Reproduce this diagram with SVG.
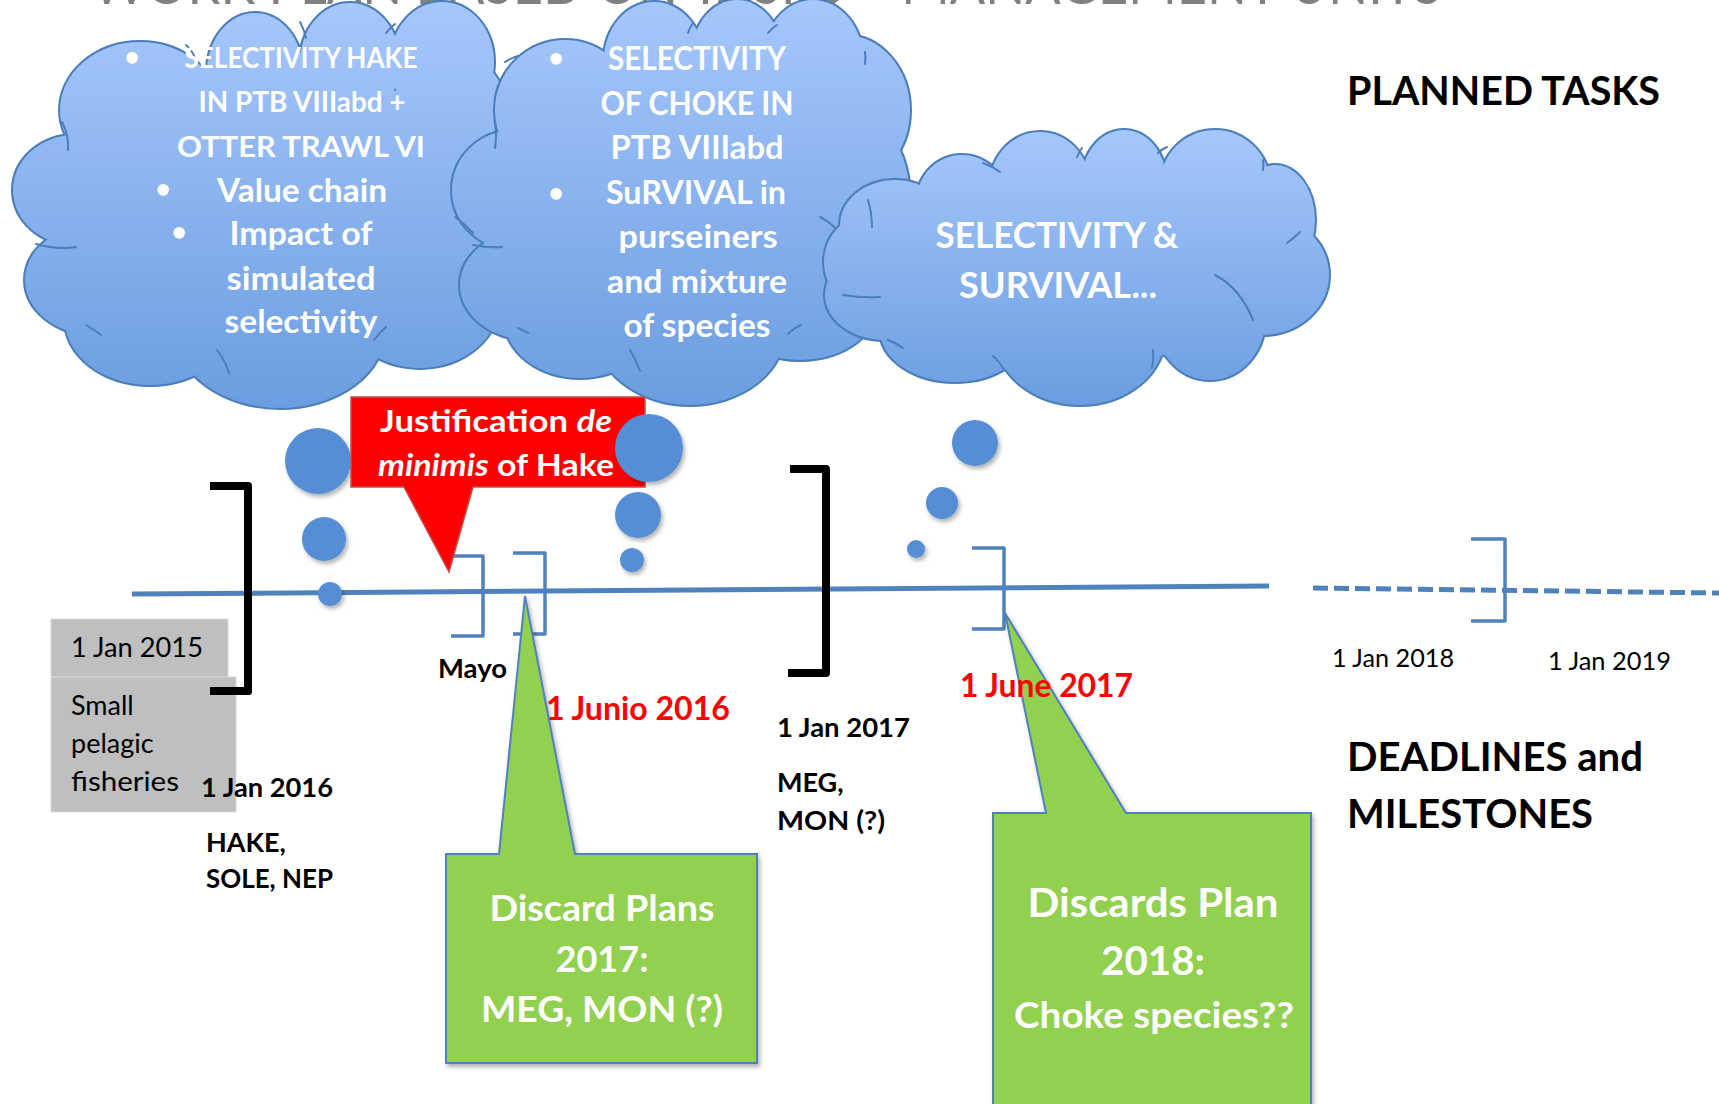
<svg xmlns="http://www.w3.org/2000/svg" xmlns:xlink="http://www.w3.org/1999/xlink" width="1719" height="1104" viewBox="0 0 1719 1104">
<style>
  .t { font-family: Lato, "Liberation Sans", sans-serif; }
  .w { fill: #ffffff; font-weight: bold; text-anchor: middle; }
  .k { fill: #000000; font-weight: bold; }
  .r { fill: #ff0000; font-weight: bold; }
  .cloudline { fill: none; stroke: #4a7ebb; stroke-width: 4; }
  .crease { fill: none; stroke: #4a7ebb; stroke-width: 2; stroke-linecap: round; }
  .bub { fill: #558ed5; filter: url(#sh); }
  .blk { fill: none; stroke: #000000; stroke-width: 8; stroke-linejoin: round; stroke-linecap: butt; }
  .blu { fill: none; stroke: #4f81bd; stroke-width: 3.5; stroke-linejoin: round; }
  .tl { fill: none; stroke: #4f81bd; stroke-width: 5; }
</style>
<defs>
  <filter id="sh" x="-30%" y="-30%" width="170%" height="170%">
    <feDropShadow dx="2" dy="3" stdDeviation="2" flood-color="#000" flood-opacity="0.3"/>
  </filter>
  <linearGradient id="g1" gradientUnits="userSpaceOnUse" x1="0" y1="5" x2="0" y2="408">
    <stop offset="0" stop-color="#a6c7fc"/><stop offset="1" stop-color="#6b9de0"/>
  </linearGradient>
  <linearGradient id="g2" gradientUnits="userSpaceOnUse" x1="0" y1="0" x2="0" y2="405">
    <stop offset="0" stop-color="#a6c7fc"/><stop offset="1" stop-color="#6b9de0"/>
  </linearGradient>
  <linearGradient id="g3" gradientUnits="userSpaceOnUse" x1="0" y1="130" x2="0" y2="405">
    <stop offset="0" stop-color="#a6c7fc"/><stop offset="1" stop-color="#6b9de0"/>
  </linearGradient>
  <g id="c1s">
    <ellipse cx="75" cy="190" rx="62" ry="55"/>
    <ellipse cx="95" cy="280" rx="70" ry="55"/>
    <ellipse cx="150" cy="320" rx="85" ry="65"/>
    <ellipse cx="280" cy="330" rx="105" ry="78"/>
    <ellipse cx="420" cy="300" rx="80" ry="68"/>
    <ellipse cx="455" cy="230" rx="60" ry="75"/>
    <ellipse cx="450" cy="130" rx="62" ry="80"/>
    <ellipse cx="442" cy="62" rx="52" ry="60"/>
    <ellipse cx="350" cy="62" rx="50" ry="59"/>
    <ellipse cx="255" cy="72" rx="48" ry="59"/>
    <ellipse cx="140" cy="110" rx="80" ry="68"/>
    <ellipse cx="270" cy="200" rx="200" ry="140"/>
  </g>
  <g id="c2s">
    <ellipse cx="515" cy="190" rx="63" ry="60"/>
    <ellipse cx="530" cy="285" rx="70" ry="55"/>
    <ellipse cx="580" cy="320" rx="75" ry="58"/>
    <ellipse cx="690" cy="330" rx="95" ry="75"/>
    <ellipse cx="800" cy="300" rx="80" ry="60"/>
    <ellipse cx="850" cy="200" rx="60" ry="90"/>
    <ellipse cx="845" cy="110" rx="65" ry="75"/>
    <ellipse cx="813" cy="60" rx="50" ry="60"/>
    <ellipse cx="737" cy="55" rx="45" ry="55"/>
    <ellipse cx="654" cy="60" rx="50" ry="58"/>
    <ellipse cx="565" cy="110" rx="70" ry="70"/>
    <ellipse cx="680" cy="200" rx="180" ry="140"/>
  </g>
  <g id="c3s">
    <ellipse cx="880" cy="262" rx="56" ry="52"/>
    <ellipse cx="885" cy="295" rx="60" ry="45"/>
    <ellipse cx="955" cy="330" rx="75" ry="52"/>
    <ellipse cx="1080" cy="335" rx="85" ry="70"/>
    <ellipse cx="1210" cy="320" rx="55" ry="60"/>
    <ellipse cx="1262" cy="275" rx="67" ry="60"/>
    <ellipse cx="1275" cy="220" rx="40" ry="55"/>
    <ellipse cx="1215" cy="185" rx="55" ry="55"/>
    <ellipse cx="1124" cy="180" rx="42" ry="50"/>
    <ellipse cx="1040" cy="185" rx="50" ry="53"/>
    <ellipse cx="962" cy="200" rx="45" ry="45"/>
    <ellipse cx="895" cy="225" rx="55" ry="45"/>
    <ellipse cx="1075" cy="270" rx="200" ry="95"/>
  </g>
</defs>

<rect x="0" y="0" width="1719" height="1104" fill="#ffffff"/>

<text class="t" x="92" y="4" font-size="58" fill="#808080" textLength="1350" lengthAdjust="spacingAndGlyphs">WORK PLAN BASED ON TASKS – MANAGEMENT UNITS</text>

<g id="connectors">
  <path class="tl" d="M132,594 L1269,586"/>
  <path class="tl" d="M1313,588 L1719,593" stroke-dasharray="15,6"/>
  <path class="blk" d="M210,486 H248 V691 H210"/>
  <path class="blk" d="M790,469 H826 V673 H788"/>
  <path class="blu" d="M451,556 H483 V636 H451"/>
  <path class="blu" d="M513,553 H545 V634 H513"/>
  <path class="blu" d="M972,548 H1004 V629 H972"/>
  <path class="blu" d="M1471,539 H1505 V621 H1471"/>
</g>

<g id="cloud1">
  <use xlink:href="#c1s" class="cloudline"/>
  <use xlink:href="#c1s" fill="url(#g1)"/>
  <path class="crease" d="M62,122 Q69,135 68,150"/>
  <path class="crease" d="M36,244 Q57,250 76,247"/>
  <path class="crease" d="M86,325 Q95,330 101,335"/>
  <path class="crease" d="M217,350 Q225,360 229,373"/>
  <path class="crease" d="M374,340 Q380,332 386,327"/>
  <path class="crease" d="M186,45 Q192,50 196,60"/>
  <path class="crease" d="M300,22 Q304,29 306,38"/>
  <path class="crease" d="M386,33 Q390,28 395,24"/>
  <text class="t w" x="132" y="66" font-size="26">•</text>
  <text class="t w" x="163" y="198" font-size="26">•</text>
  <text class="t w" x="179" y="241" font-size="26">•</text>
  <text class="t w" x="301" y="68" font-size="28" textLength="233" lengthAdjust="spacingAndGlyphs">SELECTIVITY HAKE</text>
  <text class="t w" x="302" y="112" font-size="28" textLength="207" lengthAdjust="spacingAndGlyphs">IN PTB VIIIabd +</text>
  <text class="t w" x="301" y="157" font-size="28" textLength="248" lengthAdjust="spacingAndGlyphs">OTTER TRAWL VI</text>
  <text class="t w" x="302" y="202" font-size="32" textLength="170" lengthAdjust="spacingAndGlyphs">Value chain</text>
  <text class="t w" x="301" y="245" font-size="32" textLength="143" lengthAdjust="spacingAndGlyphs">Impact of</text>
  <text class="t w" x="301" y="290" font-size="32" textLength="149" lengthAdjust="spacingAndGlyphs">simulated</text>
  <text class="t w" x="301" y="333" font-size="32" textLength="153" lengthAdjust="spacingAndGlyphs">selectivity</text>
</g>

<g id="cloud2">
  <use xlink:href="#c2s" class="cloudline"/>
  <use xlink:href="#c2s" fill="url(#g2)"/>
  <path class="crease" d="M505,62 Q511,58 518,56"/>
  <path class="crease" d="M495,123 Q497,135 495,148"/>
  <path class="crease" d="M455,217 Q465,224 473,233"/>
  <path class="crease" d="M473,245 Q488,248 502,247"/>
  <path class="crease" d="M518,328 Q523,330 528,333"/>
  <path class="crease" d="M630,350 Q636,360 640,371"/>
  <path class="crease" d="M788,334 Q794,328 801,325"/>
  <path class="crease" d="M820,217 Q830,222 838,231"/>
  <path class="crease" d="M865,52 Q866,58 865,64"/>
  <path class="crease" d="M688,33 Q690,27 693,23"/>
  <path class="crease" d="M768,33 Q772,28 777,25"/>
  <text class="t w" x="556" y="67" font-size="26">•</text>
  <text class="t w" x="556" y="202" font-size="26">•</text>
  <text class="t w" x="697" y="70" font-size="32" textLength="178" lengthAdjust="spacingAndGlyphs">SELECTIVITY</text>
  <text class="t w" x="697" y="115" font-size="32" textLength="193" lengthAdjust="spacingAndGlyphs">OF CHOKE IN</text>
  <text class="t w" x="697" y="159" font-size="32" textLength="173" lengthAdjust="spacingAndGlyphs">PTB VIIIabd</text>
  <text class="t w" x="696" y="204" font-size="32" textLength="180" lengthAdjust="spacingAndGlyphs">SuRVIVAL in</text>
  <text class="t w" x="698" y="248" font-size="32" textLength="159" lengthAdjust="spacingAndGlyphs">purseiners</text>
  <text class="t w" x="697" y="293" font-size="32" textLength="180" lengthAdjust="spacingAndGlyphs">and mixture</text>
  <text class="t w" x="697" y="337" font-size="32" textLength="147" lengthAdjust="spacingAndGlyphs">of species</text>
</g>

<g id="cloud3">
  <use xlink:href="#c3s" class="cloudline"/>
  <use xlink:href="#c3s" fill="url(#g3)"/>
  <path class="crease" d="M983,163 Q992,166 1000,172"/>
  <path class="crease" d="M1077,157 Q1079,152 1082,148"/>
  <path class="crease" d="M1158,153 Q1162,149 1167,147"/>
  <path class="crease" d="M1263,170 Q1264,165 1263,160"/>
  <path class="crease" d="M1287,243 Q1294,238 1300,232"/>
  <path class="crease" d="M1215,275 Q1240,288 1253,320"/>
  <path class="crease" d="M1153,350 Q1154,359 1152,368"/>
  <path class="crease" d="M993,356 Q1000,362 1004,370"/>
  <path class="crease" d="M888,340 Q896,343 903,348"/>
  <path class="crease" d="M843,295 Q862,298 880,297"/>
  <path class="crease" d="M868,200 Q872,213 872,227"/>
  <text class="t w" x="1057" y="248" font-size="37" textLength="243" lengthAdjust="spacingAndGlyphs">SELECTIVITY &amp;</text>
  <text class="t w" x="1058" y="298" font-size="37" textLength="198" lengthAdjust="spacingAndGlyphs">SURVIVAL...</text>
</g>

<g id="bubbles1">
  <circle class="bub" cx="330" cy="594" r="12"/>
  <circle class="bub" cx="324" cy="539" r="22"/>
  <circle class="bub" cx="318" cy="461" r="33"/>
</g>

<g id="callout-deminimis">
  <path d="M351,397 H645 V487 H473 L449,572 L404,487 H351 Z" fill="#ff0000" stroke="#c0504d" stroke-width="1.5"/>
  <text class="t w" x="496" y="432" font-size="30" textLength="232" lengthAdjust="spacingAndGlyphs">Justification  <tspan font-style="italic">de</tspan></text>
  <text class="t w" x="496" y="476" font-size="30" textLength="236" lengthAdjust="spacingAndGlyphs"><tspan font-style="italic">minimis</tspan> of Hake</text>
</g>

<g id="bubbles2">
  <circle class="bub" cx="632" cy="560" r="12"/>
  <circle class="bub" cx="638" cy="515" r="23"/>
  <circle class="bub" cx="649" cy="448" r="34"/>
</g>

<g id="bubbles3">
  <circle class="bub" cx="916" cy="549" r="9"/>
  <circle class="bub" cx="942" cy="503" r="16"/>
  <circle class="bub" cx="975" cy="443" r="23"/>
</g>

<g id="box-2015">
  <rect x="51" y="619" width="177" height="58" fill="#bfbfbf" stroke="#d9d9d9" stroke-width="1"/>
  <text class="t" x="71" y="657" font-size="27" fill="#000" textLength="132" lengthAdjust="spacingAndGlyphs">1 Jan 2015</text>
</g>
<g id="box-pelagic">
  <rect x="51" y="677" width="185" height="135" fill="#bfbfbf" stroke="#d9d9d9" stroke-width="1"/>
  <text class="t" x="71" y="715" font-size="27" fill="#000">Small</text>
  <text class="t" x="71" y="753" font-size="27" fill="#000">pelagic</text>
  <text class="t" x="71" y="791" font-size="27" fill="#000" textLength="108" lengthAdjust="spacingAndGlyphs">fisheries</text>
</g>
<path class="blk" d="M210,691 H248 V660"/>

<g id="callout-dp2017">
  <path d="M446,854 H499 L525,596 L575,854 H757 V1063 H446 Z" fill="#92d050" stroke="#4f81bd" stroke-width="2" filter="url(#sh)"/>
  <text class="t w" x="602" y="921" font-size="37" textLength="225" lengthAdjust="spacingAndGlyphs">Discard Plans</text>
  <text class="t w" x="602" y="972" font-size="37" textLength="93" lengthAdjust="spacingAndGlyphs">2017:</text>
  <text class="t w" x="602" y="1022" font-size="37" textLength="242" lengthAdjust="spacingAndGlyphs">MEG, MON (?)</text>
</g>

<g id="callout-dp2018">
  <path d="M993,813 H1046 L1005,613 L1126,813 H1311 V1110 H993 Z" fill="#92d050" stroke="#4f81bd" stroke-width="2" filter="url(#sh)"/>
  <text class="t w" x="1153" y="917" font-size="41" textLength="251" lengthAdjust="spacingAndGlyphs">Discards Plan</text>
  <text class="t w" x="1153" y="975" font-size="41" textLength="104" lengthAdjust="spacingAndGlyphs">2018:</text>
  <text class="t w" x="1154" y="1028" font-size="37" textLength="280" lengthAdjust="spacingAndGlyphs">Choke species??</text>
</g>

<g id="labels">
  <text class="t k" x="201" y="797" font-size="27" textLength="132" lengthAdjust="spacingAndGlyphs">1 Jan 2016</text>
  <text class="t k" x="206" y="852" font-size="27">HAKE,</text>
  <text class="t k" x="206" y="888" font-size="27" textLength="127" lengthAdjust="spacingAndGlyphs">SOLE, NEP</text>
  <text class="t k" x="438" y="678" font-size="27" textLength="69" lengthAdjust="spacingAndGlyphs">Mayo</text>
  <text class="t r" x="546" y="720" font-size="32" textLength="184" lengthAdjust="spacingAndGlyphs">1 Junio 2016</text>
  <text class="t k" x="777" y="737" font-size="27" textLength="133" lengthAdjust="spacingAndGlyphs">1 Jan 2017</text>
  <text class="t k" x="777" y="792" font-size="27">MEG,</text>
  <text class="t k" x="777" y="830" font-size="27" textLength="108" lengthAdjust="spacingAndGlyphs">MON (?)</text>
  <text class="t r" x="960" y="697" font-size="32" textLength="173" lengthAdjust="spacingAndGlyphs">1 June 2017</text>
  <text class="t" x="1332" y="667" font-size="25" fill="#000" textLength="122" lengthAdjust="spacingAndGlyphs">1 Jan 2018</text>
  <text class="t" x="1548" y="670" font-size="25" fill="#000" textLength="123" lengthAdjust="spacingAndGlyphs">1 Jan 2019</text>
  <text class="t k" x="1347" y="105" font-size="40" textLength="313" lengthAdjust="spacingAndGlyphs">PLANNED TASKS</text>
  <text class="t k" x="1347" y="771" font-size="40" textLength="296" lengthAdjust="spacingAndGlyphs">DEADLINES and</text>
  <text class="t k" x="1347" y="828" font-size="40" textLength="246" lengthAdjust="spacingAndGlyphs">MILESTONES</text>
</g>
</svg>
